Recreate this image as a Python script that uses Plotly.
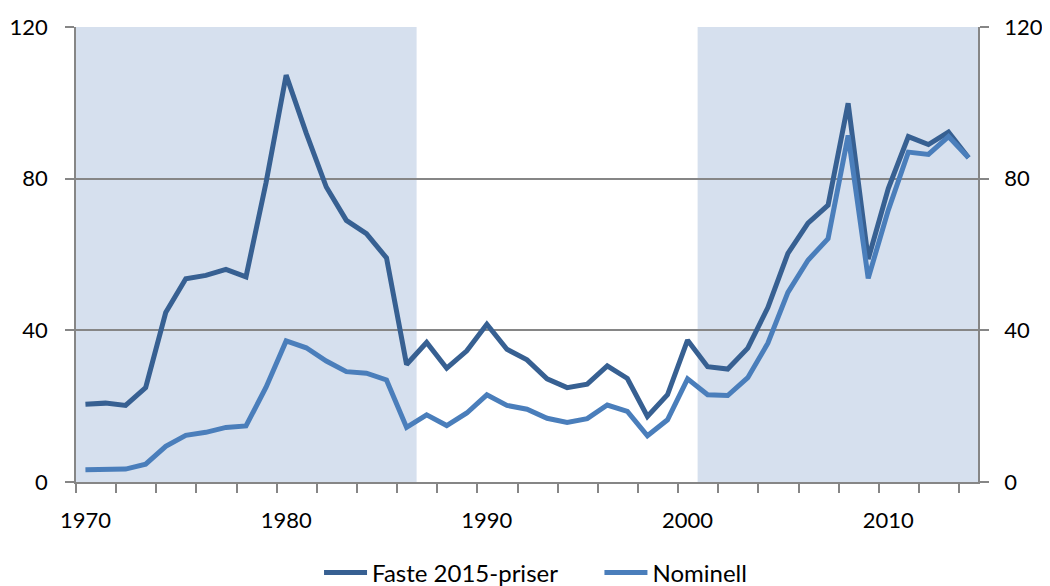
import plotly.graph_objects as go

years = list(range(1970, 2015))

faste_2015_priser = [
    20.5, 20.8, 20.2, 24.9, 44.7, 53.6, 54.5, 56.1, 54.1, 79.0,
    107.3, 92.0, 77.8, 69.0, 65.5, 59.1, 31.0, 36.8, 30.0, 34.6,
    41.6, 35.0, 32.2, 27.2, 24.9, 25.8, 30.6, 27.3, 17.3, 23.0,
    37.4, 30.4, 29.8, 35.3, 46.0, 60.3, 68.3, 73.0, 99.9, 58.8,
    77.4, 91.1, 89.0, 92.3, 85.5,
]

nominell = [
    3.2, 3.4, 3.4, 4.7, 9.4, 12.3, 13.1, 14.4, 14.8, 25.0,
    37.2, 35.4, 31.9, 29.1, 28.7, 26.9, 14.4, 17.7, 14.9, 18.2,
    23.0, 20.2, 19.2, 16.8, 15.7, 16.7, 20.3, 18.6, 12.2, 16.4,
    27.2, 23.0, 22.8, 27.5, 36.6, 50.0, 58.5, 64.2, 91.4, 53.7,
    71.7, 87.0, 86.4, 91.1, 85.5,
]

shaded_periods = [(1969.5, 1986.5), (2000.5, 2014.5)]

x_labels = [1970, 1980, 1990, 2000, 2010]
y_ticks = [0, 40, 80, 120]

DARK = "#376092"
LIGHT = "#4A7EBB"
SHADE = "#D6E0EE"
GRID = "#868686"
FONT = "Lato"
TICK_FONT = dict(family=FONT, size=22, color="#000000")
LEG_FONT = dict(family=FONT, size=24, color="#000000")

fig = go.Figure()
fig.add_trace(go.Scatter(x=years, y=faste_2015_priser, mode="lines",
                         name="Faste 2015-priser", legend="legend",
                         line=dict(color=DARK, width=5)))
fig.add_trace(go.Scatter(x=years, y=nominell, mode="lines",
                         name="Nominell", legend="legend2",
                         line=dict(color=LIGHT, width=5)))
# invisible helper trace so the right-hand axis is rendered
fig.add_trace(go.Scatter(x=years, y=nominell, mode="lines", yaxis="y2",
                         showlegend=False, hoverinfo="skip", opacity=0,
                         line=dict(width=0)))

for x0, x1 in shaded_periods:
    fig.add_shape(type="rect", xref="x", yref="y", x0=x0, x1=x1, y0=0, y1=120,
                  fillcolor=SHADE, line=dict(width=0), layer="below")

legend_common = dict(orientation="h", xref="container", yref="container",
                     xanchor="left", y=0.0225, yanchor="middle",
                     font=LEG_FONT, itemwidth=43, borderwidth=0,
                     bgcolor="rgba(0,0,0,0)")

fig.update_layout(
    width=1042, height=578,
    margin=dict(l=68, r=72, t=19, b=104, autoexpand=False),
    plot_bgcolor="white", paper_bgcolor="white",
    font=dict(family=FONT, size=22, color="#000000"),
    showlegend=True,
    legend=dict(x=0.2985, **legend_common),
    legend2=dict(x=0.5676, **legend_common),
    xaxis=dict(
        range=[1969.53, 2014.47], automargin=False,
        tickvals=x_labels, ticktext=[str(v) for v in x_labels],
        tickfont=TICK_FONT,
        ticks="", showgrid=False, zeroline=False,
        showline=True, linecolor=GRID, linewidth=1.5,
        ticklabelstandoff=18,
        minor=dict(tick0=1969.53, dtick=2, ticks="outside", ticklen=9,
                   tickcolor=GRID, tickwidth=1.5, showgrid=False),
    ),
    yaxis=dict(
        range=[0, 120], tickvals=y_ticks, automargin=False,
        tickfont=TICK_FONT,
        ticks="outside", ticklen=9, tickcolor=GRID, tickwidth=1.5,
        showgrid=True, gridcolor=GRID, gridwidth=1.5,
        zeroline=False, showline=True, linecolor=GRID, linewidth=1.5,
        ticklabelstandoff=13,
    ),
    yaxis2=dict(
        range=[0, 120], tickvals=y_ticks, overlaying="y", side="right",
        automargin=False, tickfont=TICK_FONT,
        ticks="outside", ticklen=9, tickcolor=GRID, tickwidth=1.5,
        showgrid=False, zeroline=False, showline=True, linecolor=GRID,
        linewidth=1.5, ticklabelstandoff=11,
    ),
)

fig.write_html("out.html")
